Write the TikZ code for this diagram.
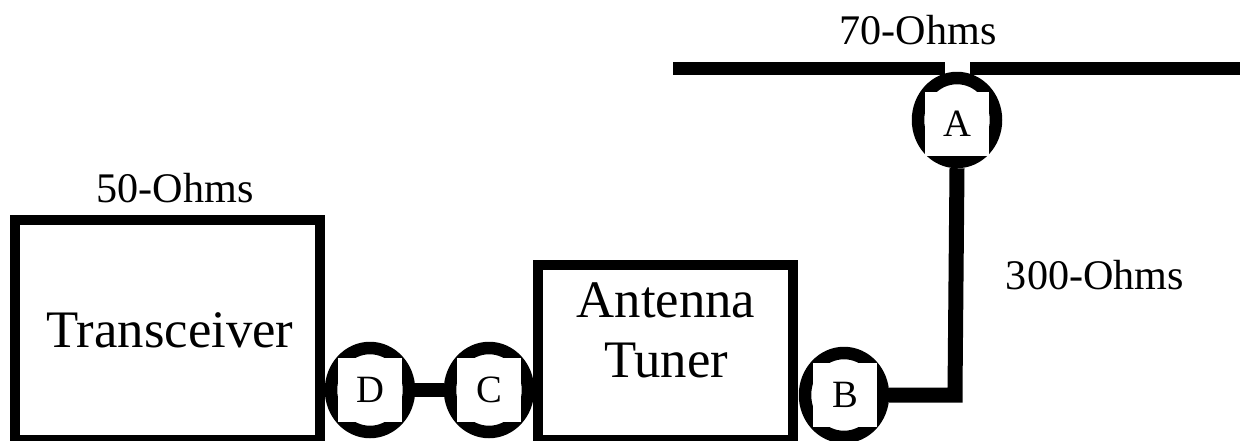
\documentclass[tikz,border=0pt]{standalone}
\usepackage{fontspec}
\setmainfont{Liberation Serif}
\usetikzlibrary{shapes.geometric}
\begin{document}
\begin{tikzpicture}[x=0.02cm,y=-0.02cm,
  box/.style={draw,line width=0.2cm,minimum width=#1,inner sep=0pt},
  ring/.style={draw,ellipse,line width=0.25cm,minimum width=1.56cm,minimum height=1.68cm,inner sep=0pt},
  tag/.style={fill=white,minimum size=1.28cm,inner sep=0pt,font=\fontsize{22}{26}\selectfont},
  ohms/.style={font=\fontsize{24}{28}\selectfont},
  big/.style={font=\fontsize{30}{34}\selectfont,align=center},
  wire/.style={line width=#1}]
\useasboundingbox (0,0) rectangle (1245,440);
% boxes
\node[box=6.1cm,minimum height=4.4cm] (trx) at (167.5,330) {};
\node[big] (trxt) at (170,330) {Transceiver};
\node[box=5.1cm,minimum height=3.5cm] (tun) at (665.5,352.5) {};
\node[big] (tunt) at (666,330) {Antenna\\[0pt]Tuner};
% rings
\node[ring] (D) at (370,390) {};
\node[ring] (C) at (489,390) {};
\node[ring] (B) at (844,395) {};
\node[ring] (A) at (957,120) {};
% antenna
\coordinate (al1) at (673,68);
\coordinate (al2) at (945,68);
\coordinate (ar1) at (970,68);
\coordinate (ar2) at (1240,68);
\draw[wire=0.26cm] (al1) -- (al2);
\draw[wire=0.26cm] (ar1) -- (ar2);
% connectors
\draw[wire=0.28cm] (D.east) -- (C.west);
\coordinate (corner) at (955,393);
\draw[wire=0.3cm] (B.east) -- (B.east -| corner) -- (corner) -- (A.south);
% tags
\node[tag] (Dt) at (370,390) {D};
\node[tag] (Ct) at (489,390) {C};
\node[tag] (Bt) at (845,395) {B};
\node[tag] (At) at (957,124) {A};
% ohms labels
\node[ohms] (o70) at (918,30) {70-Ohms};
\node[ohms] (o50) at (175,188) {50-Ohms};
\node[ohms] (o300) at (1095,275) {300-Ohms};
\end{tikzpicture}
\end{document}
